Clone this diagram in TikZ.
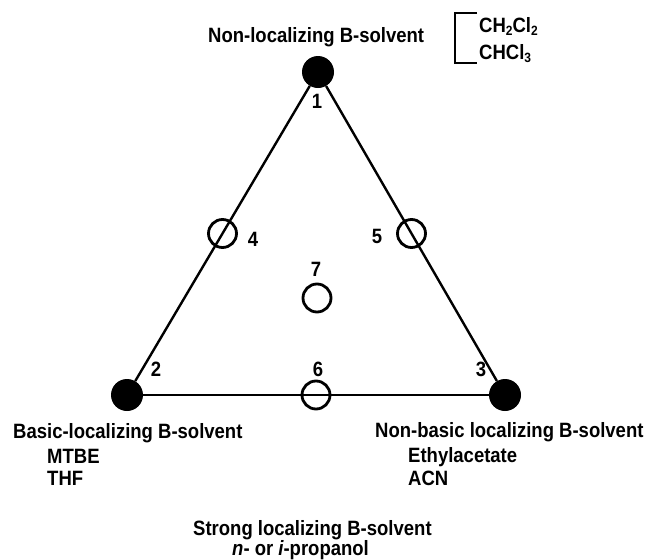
\documentclass[tikz,border=0pt]{standalone}
\usepackage{fontspec}
\usepackage{graphicx}
\setmainfont{Liberation Sans}
\newcommand{\mysub}[1]{\raisebox{-0.35ex}{\fontsize{12}{12}\selectfont #1}}
\newcommand{\tx}[1]{\scalebox{1}[1.12]{#1}}
\begin{document}
\begin{tikzpicture}[x=1pt,y=-1pt,
  every node/.style={inner sep=0pt, font=\fontsize{18.5}{20}\selectfont\bfseries},
  vertex/.style={circle, fill=black, minimum size=32pt},
  mid/.style={circle, draw=black, line width=2.8pt, minimum size=28pt},
  num/.style={anchor=center},
  lbl/.style={anchor=base west},
  edge/.style={line width=2.4pt}]
\useasboundingbox (0,0) rectangle (649,560);
\node[vertex] (v1) at (318,72) {};
\node[vertex] (v2) at (127,395) {};
\node[vertex] (v3) at (505,395) {};
\draw[edge] (v1) -- (v2);
\draw[edge] (v1) -- (v3);
\draw[edge] (v2) -- (v3);
\node[mid] (m4) at (222.5,233.5) {};
\node[mid] (m5) at (411.5,233.5) {};
\node[mid] (m6) at (316,395) {};
\node[mid] (m7) at (317,298) {};
\node[num] (n1) at (317,101) {\tx{1}};
\node[num] (n2) at (156,369) {\tx{2}};
\node[num] (n3) at (481,369) {\tx{3}};
\node[num] (n4) at (253,239) {\tx{4}};
\node[num] (n5) at (377,236) {\tx{5}};
\node[num] (n6) at (318,369) {\tx{6}};
\node[num] (n7) at (316,269) {\tx{7}};
\node[lbl] (t1) at (208,42) {\tx{Non-localizing B-solvent}};
\draw[line width=2.4pt] (477,13) -| (455,63) -- (477,63);
\node[lbl] (c1) at (479,32) {\tx{CH\mysub{2}Cl\mysub{2}}};
\node[lbl] (c2) at (479,59) {\tx{CHCl\mysub{3}}};
\node[lbl] (t2) at (13,438) {\tx{Basic-localizing B-solvent}};
\node[lbl] (t2a) at (47,463) {\tx{MTBE}};
\node[lbl] (t2b) at (47,485) {\tx{THF}};
\node[lbl] (t3) at (375,437) {\tx{Non-basic localizing B-solvent}};
\node[lbl] (t3a) at (408,462) {\tx{Ethylacetate}};
\node[lbl] (t3b) at (408,485) {\tx{ACN}};
\node[lbl] (t4) at (193,535) {\tx{Strong localizing B-solvent}};
\node[lbl] (t4a) at (232,555) {\tx{\itshape n\upshape- or \itshape i\upshape-propanol}};
\end{tikzpicture}
\end{document}
